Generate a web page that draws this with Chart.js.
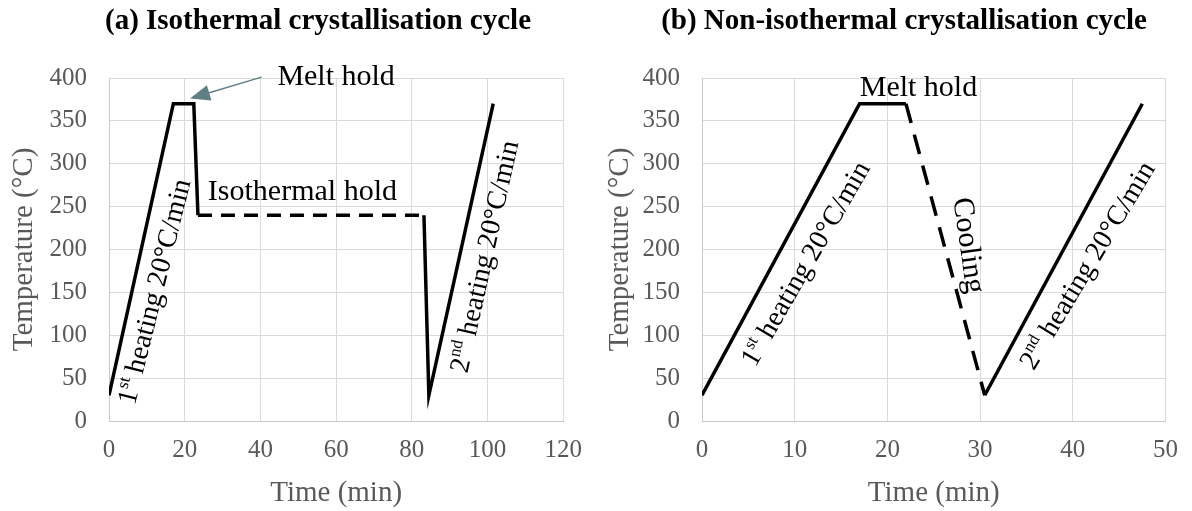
<!DOCTYPE html>
<html>
<head>
<meta charset="utf-8">
<title>Crystallisation cycles</title>
<script src="https://cdn.jsdelivr.net/npm/chart.js@4.4.1/dist/chart.umd.min.js"></script>
<style>
    body { margin: 0; background: #fff; }
    .panel { position: absolute; top: 0; width: 596px; height: 511px; }
</style>
</head>
<body>
<div class="panel" style="left:0"><canvas id="chartA" width="596" height="511"></canvas></div>
<div class="panel" style="left:596px"><canvas id="chartB" width="596" height="511"></canvas></div>
<script>
// (a) isothermal cycle - time (min) / temperature (°C)
const isoHeatTime = [0, 17, 22.4, 23.5];
const isoHeatTemp = [30, 370, 370, 240];
const isoHoldTime = [23.5, 83.2];
const isoHoldTemp = [240, 240];
const isoReheatTime = [83.2, 84.5, 101.5];
const isoReheatTemp = [240, 30, 370];

// (b) non-isothermal cycle
const nonHeatTime = [0, 17, 22];
const nonHeatTemp = [30, 370, 370];
const nonCoolTime = [22, 30.5];
const nonCoolTemp = [370, 30];
const nonReheatTime = [30.5, 47.5];
const nonReheatTemp = [30, 370];

// axis ticks
const tempTicks = [0, 50, 100, 150, 200, 250, 300, 350, 400];
const isoTimeTicks = [0, 20, 40, 60, 80, 100, 120];
const nonTimeTicks = [0, 10, 20, 30, 40, 50];

const SERIF = '"Liberation Serif", "Times New Roman", serif';
const GRID = '#d9d9d9';
const TICK = '#595959';

function toPoints(xs, ys) {
    return xs.map((x, i) => ({ x: x, y: ys[i] }));
}

function segment(xs, ys, dashed, dash) {
    return {
        data: toPoints(xs, ys),
        showLine: true,
        borderColor: '#000',
        borderWidth: 3.5,
        borderDash: dashed ? dash : [],
        borderJoinStyle: 'miter',
        pointRadius: 0,
        fill: false
    };
}

// panel title, rotated text labels (with superscripts) and the arrow
const textLabels = {
    id: 'textLabels',
    afterDatasetsDraw(chart, args, opts) {
        const ctx = chart.ctx;
        const xs = chart.scales.x, ys = chart.scales.y;

        if (opts.title) {
            ctx.save();
            ctx.fillStyle = '#000';
            ctx.font = 'bold 29px ' + SERIF;
            ctx.textAlign = 'center';
            ctx.textBaseline = 'middle';
            ctx.fillText(opts.title.text, opts.title.x, 22);
            ctx.restore();
        }

        (opts.arrows || []).forEach(a => {
            const x1 = xs.getPixelForValue(a.from[0]), y1 = ys.getPixelForValue(a.from[1]);
            const x2 = xs.getPixelForValue(a.to[0]), y2 = ys.getPixelForValue(a.to[1]);
            const ang = Math.atan2(y2 - y1, x2 - x1);
            ctx.save();
            ctx.strokeStyle = a.color;
            ctx.fillStyle = a.color;
            ctx.lineWidth = 1.5;
            ctx.beginPath();
            ctx.moveTo(x1, y1);
            ctx.lineTo(x2 - 14 * Math.cos(ang), y2 - 14 * Math.sin(ang));
            ctx.stroke();
            ctx.translate(x2, y2);
            ctx.rotate(ang);
            ctx.beginPath();
            ctx.moveTo(0, 0);
            ctx.lineTo(-20, -8);
            ctx.lineTo(-20, 8);
            ctx.closePath();
            ctx.fill();
            ctx.restore();
        });

        (opts.items || []).forEach(item => {
            const px = xs.getPixelForValue(item.x), py = ys.getPixelForValue(item.y);
            const size = item.size || 30;
            const big = size + 'px ' + SERIF, small = Math.round(size * 0.6) + 'px ' + SERIF;
            ctx.save();
            ctx.translate(px, py);
            ctx.rotate(item.angle * Math.PI / 180);
            ctx.fillStyle = '#000';
            ctx.textBaseline = 'alphabetic';
            ctx.textAlign = 'left';
            let total = 0;
            item.parts.forEach(p => {
                ctx.font = p.sup ? small : big;
                total += ctx.measureText(p.text).width;
            });
            let cx = -total / 2;
            const base = size / 3;
            item.parts.forEach(p => {
                ctx.font = p.sup ? small : big;
                ctx.fillText(p.text, cx, p.sup ? base - size * 0.4 : base);
                cx += ctx.measureText(p.text).width;
            });
            ctx.restore();
        });
    }
};

function makeChart(canvasId, title, datasets, timeTicks, yWidth, rightPad, labels, arrows) {
    return new Chart(document.getElementById(canvasId), {
        type: 'scatter',
        data: { datasets: datasets },
        plugins: [textLabels],
        options: {
            responsive: false,
            animation: false,
            devicePixelRatio: 1,
            layout: { padding: { left: 0, right: rightPad, top: 78, bottom: 0 } },
            plugins: {
                legend: { display: false },
                tooltip: { enabled: false },
                title: { display: false },
                textLabels: { title: title, items: labels, arrows: arrows }
            },
            scales: {
                x: {
                    type: 'linear',
                    min: timeTicks[0],
                    max: timeTicks[timeTicks.length - 1],
                    ticks: {
                        stepSize: timeTicks[1] - timeTicks[0],
                        color: TICK,
                        font: { family: SERIF, size: 25 },
                        padding: 14,
                        maxRotation: 0
                    },
                    grid: { color: GRID, drawTicks: false },
                    border: { color: '#c8c8c8' },
                    title: {
                        display: true,
                        text: 'Time (min)',
                        color: TICK,
                        font: { family: SERIF, size: 29 },
                        padding: { top: 0, bottom: 0 }
                    },
                    afterFit: s => { s.height = 90; }
                },
                y: {
                    type: 'linear',
                    min: tempTicks[0],
                    max: tempTicks[tempTicks.length - 1],
                    ticks: {
                        stepSize: tempTicks[1] - tempTicks[0],
                        color: TICK,
                        font: { family: SERIF, size: 25 },
                        padding: 22
                    },
                    grid: { color: GRID, drawTicks: false },
                    border: { color: '#c8c8c8' },
                    title: {
                        display: true,
                        text: 'Temperature (°C)',
                        color: TICK,
                        font: { family: SERIF, size: 29 },
                        padding: { top: 7, bottom: 0 }
                    },
                    afterFit: s => { s.width = yWidth; }
                }
            }
        }
    });
}

makeChart('chartA', { text: '(a) Isothermal crystallisation cycle', x: 318 }, [
    segment(isoHeatTime, isoHeatTemp, false),
    segment(isoHoldTime, isoHoldTemp, true, [14, 9]),
    segment(isoReheatTime, isoReheatTemp, false)
], isoTimeTicks, 109, 22, [
    { x: 11.8, y: 151, angle: -76, size: 28, parts: [{ text: '1' }, { text: 'st', sup: true }, { text: ' heating 20°C/min' }] },
    { x: 99.0, y: 192, angle: -77.5, size: 28, parts: [{ text: '2' }, { text: 'nd', sup: true }, { text: ' heating 20°C/min' }] },
    { x: 51.1, y: 269, angle: 0, parts: [{ text: 'Isothermal hold' }] },
    { x: 60.0, y: 404, angle: 0, parts: [{ text: 'Melt hold' }] }
], [
    { from: [40.3, 401], to: [21.4, 376], color: '#5f7f86' }
]);

makeChart('chartB', { text: '(b) Non-isothermal crystallisation cycle', x: 308 }, [
    segment(nonHeatTime, nonHeatTemp, false),
    segment(nonCoolTime, nonCoolTemp, true, [20, 12]),
    segment(nonReheatTime, nonReheatTemp, false)
], nonTimeTicks, 106, 20, [
    { x: 11.1, y: 184, angle: -60, size: 28, parts: [{ text: '1' }, { text: 'st', sup: true }, { text: ' heating 20°C/min' }] },
    { x: 41.5, y: 182, angle: -59, size: 28, parts: [{ text: '2' }, { text: 'nd', sup: true }, { text: ' heating 20°C/min' }] },
    { x: 28.9, y: 205, angle: 82, parts: [{ text: 'Cooling' }] },
    { x: 23.35, y: 391, angle: 0, parts: [{ text: 'Melt hold' }] }
], []);
</script>
</body>
</html>
